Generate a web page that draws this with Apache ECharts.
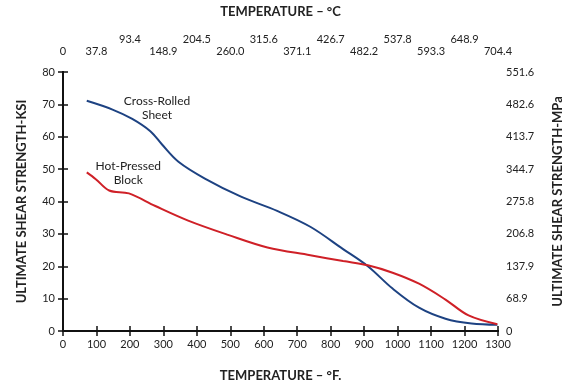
<!DOCTYPE html>
<html>
<head>
<meta charset="utf-8">
<script src="https://cdn.jsdelivr.net/npm/echarts@6/dist/echarts.min.js"></script>
<style>html,body{margin:0;padding:0;background:#fff}#c{width:572px;height:387px}</style>
</head>
<body>
<div id="c"></div>
<script>
// Tick labels
const celsiusLabels = ['0','37.8','93.4','148.9','204.5','260.0','315.6','371.1','426.7','482.2','537.8','593.3','648.9','704.4'];
const mpaLabels = ['0','68.9','137.9','206.8','275.8','344.7','413.7','482.6','551.6'];

// Cross-Rolled Sheet (°F, ksi)
const crossRolledF   = [71, 148, 207, 261, 296, 345, 424, 532, 640, 739, 837, 911, 985, 1064, 1143, 1221, 1298];
const crossRolledKsi = [71.1, 68.4, 65.5, 61.7, 57.6, 52.3, 47.1, 41.5, 37.1, 32.2, 25.3, 20.0, 13.1, 7.2, 3.8, 2.3, 1.9];

// Hot-Pressed Block (°F, ksi)
const hotPressedF   = [71, 98, 138, 197, 276, 374, 493, 611, 739, 837, 911, 985, 1064, 1143, 1212, 1298];
const hotPressedKsi = [49.0, 46.9, 43.4, 42.5, 38.6, 34.1, 29.7, 25.8, 23.4, 21.6, 20.3, 18.0, 14.6, 9.7, 4.8, 2.1];

const FONT = 'Lato, "DejaVu Sans", sans-serif';
const TXT = '#222';
const lineStyle = {color:'#111', width:2};

function xAx(pos, inside, showLabel, extra) {
  return Object.assign({
    type:'value', position:pos, min:0, max:1300, interval:100,
    axisLine:{show:true, lineStyle:lineStyle},
    axisTick:{show:true, inside:inside, length: inside?3:5, lineStyle:{color:'#111', width:1.5}},
    axisLabel:{show:showLabel, color:TXT, fontFamily:FONT, fontSize:11},
    splitLine:{show:false}
  }, extra||{});
}
function yAx(pos, inside, showLabel, extra) {
  return Object.assign({
    type:'value', position:pos, min:0, max:80, interval:10,
    axisLine:{show:true, lineStyle:lineStyle},
    axisTick:{show:true, inside:inside, length: inside?3:5, lineStyle:{color:'#111', width:1.5}},
    axisLabel:{show:showLabel, color:TXT, fontFamily:FONT, fontSize:11},
    splitLine:{show:false}
  }, extra||{});
}
const titleStyle = {color:TXT, fontFamily:FONT, fontWeight:'bold', fontSize:13};

const option = {
  animation:false,
  backgroundColor:'#fff',
  grid:{left:63, right:69, top:67.5, bottom:47, containLabel:false},
  xAxis:[
    xAx('bottom', false, true, {
      name:'TEMPERATURE – °F.', nameLocation:'middle', nameGap:38, nameTextStyle:titleStyle,
      axisLabel:{show:true, color:TXT, fontFamily:FONT, fontSize:11, margin:8,
        formatter:function(v){ return String(v); }}
    }),
    xAx('bottom', true, false),
    xAx('top', false, true, {
      name:'TEMPERATURE – °C', nameLocation:'middle', nameGap:54, nameTextStyle:titleStyle,
      axisLabel:{show:true, color:TXT, fontFamily:FONT, fontSize:11, margin:15,
        formatter:function(v){
          const k = Math.round(v/100);
          const s = celsiusLabels[k];
          return (k>0 && k%2===0) ? '{u|'+s+'}' : '{l|'+s+'}';
        },
        rich:{
          u:{color:TXT, fontFamily:FONT, fontSize:11, padding:[0,0,12,0]},
          l:{color:TXT, fontFamily:FONT, fontSize:11}
        }
      }
    }),
    xAx('top', true, false)
  ],
  yAxis:[
    yAx('left', false, true, {
      name:'ULTIMATE SHEAR STRENGTH-KSI', nameLocation:'middle', nameGap:35, nameTextStyle:titleStyle,
      axisLabel:{show:true, color:TXT, fontFamily:FONT, fontSize:11, margin:8}
    }),
    yAx('left', true, false),
    yAx('right', false, true, {
      name:'ULTIMATE SHEAR STRENGTH-MPa', nameLocation:'middle', nameGap:53, nameTextStyle:titleStyle,
      nameRotate:90,
      axisLabel:{show:true, color:TXT, fontFamily:FONT, fontSize:11, margin:8,
        formatter:function(v){ return mpaLabels[Math.round(v/10)]; }}
    }),
    yAx('right', true, false)
  ],
  series:[
    {
      name:'Cross-Rolled Sheet', type:'line', xAxisIndex:0, yAxisIndex:0,
      data: crossRolledF.map((f,i)=>[f, crossRolledKsi[i]]),
      smooth:0.35, showSymbol:false, symbol:'none',
      lineStyle:{color:'#1d4282', width:2},
      markPoint:{symbol:'circle', symbolSize:0,
        label:{show:true, position:'inside', color:TXT, fontFamily:FONT, fontSize:12, lineHeight:14, align:'center',
          formatter:'Cross-Rolled\nSheet'},
        data:[{coord:[281, 68.7], value:0}]}
    },
    {
      name:'Hot-Pressed Block', type:'line', xAxisIndex:0, yAxisIndex:0,
      data: hotPressedF.map((f,i)=>[f, hotPressedKsi[i]]),
      smooth:0.35, showSymbol:false, symbol:'none',
      lineStyle:{color:'#cf2027', width:2},
      markPoint:{symbol:'circle', symbolSize:0,
        label:{show:true, position:'inside', color:TXT, fontFamily:FONT, fontSize:12, lineHeight:14, align:'center',
          formatter:'Hot-Pressed\nBlock'},
        data:[{coord:[195, 48.7], value:0}]}
    }
  ]
};
const chart = echarts.init(document.getElementById('c'), null, {renderer:'canvas'});
chart.setOption(option);
</script>
</body>
</html>
